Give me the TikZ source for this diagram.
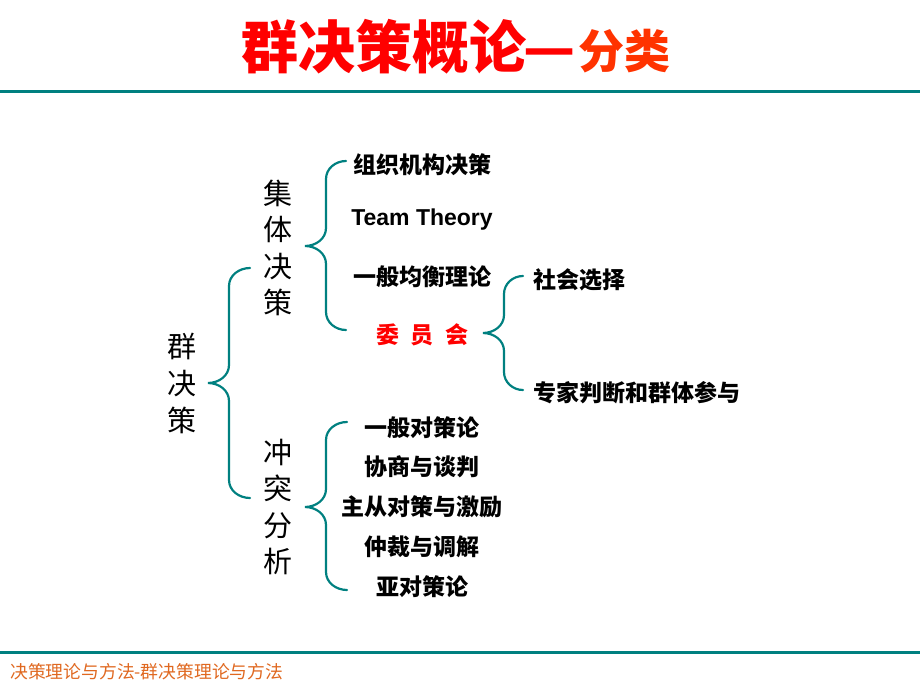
\documentclass[tikz,border=0pt]{standalone}
\usepackage{fontspec}
\setmainfont{Noto Sans CJK SC}
\newfontfamily\latinbold{Liberation Sans}
\definecolor{teal1}{RGB}{0,128,128}
\definecolor{titlered}{RGB}{255,0,0}
\definecolor{titleorange}{RGB}{255,51,0}
\definecolor{footer}{RGB}{224,104,32}
\tikzset{
  brace/.style={draw=teal1, line width=2.2pt, line cap=round},
  item/.style={inner sep=0pt, anchor=center, font=\fontsize{23}{26}\selectfont\bfseries},
  vtext/.style={inner sep=0pt, anchor=center, align=center, font=\fontsize{29}{36.6}\selectfont},
  rule/.style={draw=teal1, line width=3pt}
}
\newcommand{\mybrace}[6]{% top x, top y, vertical x, tip x, tip y, bottom y
  \draw[brace] (#1,#2) to[out=180,in=90] (#3,#2+18) -- (#3,#5-18) to[out=-90,in=0] (#4,#5)
    to[out=0,in=90] (#3,#5+18) -- (#3,#6-18) to[out=-90,in=180] (#1,#6);
}
\begin{document}
\begin{tikzpicture}[x=1pt,y=-1pt]
\useasboundingbox[fill=white] (0,0) rectangle (920,690);
% title
\node[inner sep=0pt, anchor=base west] (title) at (241,69)
  {\fontsize{57}{60}\selectfont\bfseries\color{titlered}群决策概论\hspace{-0.05em}—\hspace{0.05em}\fontsize{46}{50}\selectfont\color{titleorange}分类};
\coordinate (tl1) at (0,92);
\coordinate (tl2) at (920,92);
\draw[rule] (tl1) -- (tl2);
\coordinate (bl1) at (0,652);
\coordinate (bl2) at (920,652);
\draw[rule] (bl1) -- (bl2);
\node[inner sep=0pt, anchor=west, font=\fontsize{17.8}{19}\selectfont, text=footer] (footer) at (10,672)
  {决策理论与方法-群决策理论与方法};
% vertical labels
\node[vtext] (qun) at (182,383.5) {群\\决\\策};
\node[vtext] (jiti) at (278,248) {集\\体\\决\\策};
\node[vtext] (chongtu) at (278,507) {冲\\突\\分\\析};
% braces
\mybrace{250}{268}{229}{208}{383}{498}
\mybrace{346}{161}{326}{305}{246}{330}
\mybrace{523}{276}{504}{483}{333}{390}
\mybrace{347}{422}{326}{305}{507}{590}
% collective decision items
\node[item] (zz) at (422,165) {组织机构决策};
\node[item, font=\fontsize{23}{26}\selectfont\latinbold\bfseries] (team) at (422,220) {Team Theory};
\node[item] (jh) at (422,277) {一般均衡理论};
\node[item, text=titlered] (wyh) at (422,335) {委\hspace{0.5em}员\hspace{0.5em}会};
\node[item] (sh) at (579,280) {社会选择};
\node[item] (zj) at (637,393) {专家判断和群体参与};
% conflict items
\node[item] (c1) at (422,428) {一般对策论};
\node[item] (c2) at (422,467) {协商与谈判};
\node[item] (c3) at (422,507) {主从对策与激励};
\node[item] (c4) at (422,547) {仲裁与调解};
\node[item] (c5) at (422,587) {亚对策论};
\end{tikzpicture}
\end{document}
